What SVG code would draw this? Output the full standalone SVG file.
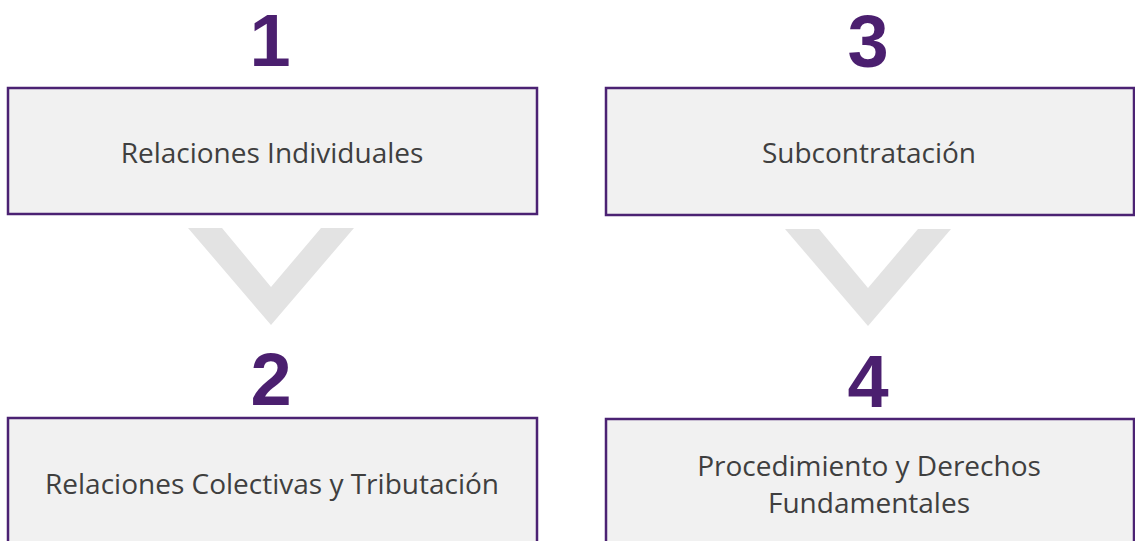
<svg xmlns="http://www.w3.org/2000/svg" width="1135" height="541" viewBox="0 0 1135 541">
<style>
.box{fill:#f1f1f1;stroke:#4b2273;stroke-width:2.5}
.num{font-family:"Liberation Sans",Arial,sans-serif;font-weight:bold;font-size:74px;fill:#4b1f6f;text-anchor:middle}
.lbl{font-family:"Open Sans","Noto Sans",sans-serif;font-size:28px;fill:#3f3f3f;text-anchor:middle}
.chev{fill:#e3e3e3}
</style>
<g id="connectors">
<polygon class="chev" points="188,228 222,228 271,287 321,228 354,228 271,325"/>
<polygon class="chev" points="785,229 819,229 868,288 918,229 951,229 868,326"/>
</g>
<g id="node1">
<text class="num" x="270" y="66">1</text>
<rect class="box" x="8" y="88" width="529" height="126"/>
<text class="lbl" x="272" y="163">Relaciones Individuales</text>
</g>
<g id="node3">
<text class="num" x="868" y="67">3</text>
<rect class="box" x="606" y="88" width="528" height="127"/>
<text class="lbl" x="869" y="163">Subcontratación</text>
</g>
<g id="node2">
<text class="num" x="271" y="405">2</text>
<rect class="box" x="8" y="418" width="529" height="130"/>
<text class="lbl" x="272" y="494">Relaciones Colectivas y Tributación</text>
</g>
<g id="node4">
<text class="num" x="868" y="407">4</text>
<rect class="box" x="606" y="419" width="528" height="130"/>
<text class="lbl" x="869" y="476">Procedimiento y Derechos</text>
<text class="lbl" x="869" y="513">Fundamentales</text>
</g>
</svg>
